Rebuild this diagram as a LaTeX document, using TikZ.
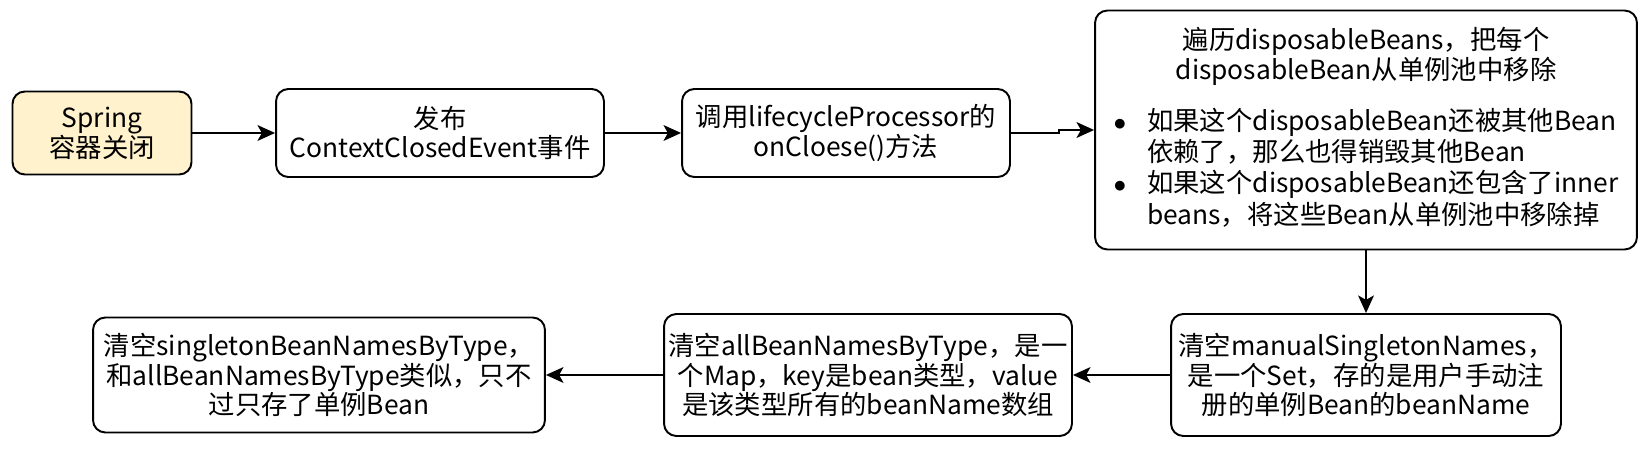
\documentclass[tikz,border=0pt]{standalone}
\usepackage{fontspec}
\setmainfont{Noto Sans CJK SC}
\usetikzlibrary{arrows.meta}
\definecolor{groc}{HTML}{FFF2CC}

\begin{document}
\begin{tikzpicture}[x=0.02cm,y=-0.02cm,
  caixa/.style={draw,line width=1.1pt,rounded corners=7pt,align=center,
    inner sep=0pt,font=\fontsize{15}{17}\selectfont},
  fletxa/.style={line width=1.1pt,-{Stealth[length=10pt,width=9pt,inset=2.5pt]}}]
  \useasboundingbox (0,0) rectangle (1650,452);
  % Fila de dalt
  \node[caixa,fill=groc,minimum width=3.58cm,minimum height=1.66cm] (spring) at (102,133) {Spring\\容器关闭};
  \node[caixa,minimum width=6.56cm,minimum height=1.76cm] (publica) at (440,133) {发布\\ContextClosedEvent事件};
  \node[caixa,minimum width=6.56cm,minimum height=1.76cm] (oncloese) at (846,133) {调用lifecycleProcessor的\\onCloese()方法};
  % Caixa gran amb la llista
  \node[caixa,minimum width=10.84cm,minimum height=4.78cm] (recorre) at (1366,130) {遍历disposableBeans，把每个\\disposableBean从单例池中移除\\[12pt]
    \begin{tabular}{@{}c@{\hspace{12pt}}l@{}}
      $\bullet$ & 如果这个disposableBean还被其他Bean\\
        & 依赖了，那么也得销毁其他Bean\\
      $\bullet$ & 如果这个disposableBean还包含了inner\\
        & beans，将这些Bean从单例池中移除掉
    \end{tabular}};
  % Fila de baix
  \node[caixa,minimum width=7.8cm,minimum height=2.44cm] (manual) at (1366,375) {清空manualSingletonNames，\\是一个Set，存的是用户手动注\\册的单例Bean的beanName};
  \node[caixa,minimum width=8.16cm,minimum height=2.44cm] (allbean) at (868,375) {清空allBeanNamesByType，是一\\个Map，key是bean类型，value\\是该类型所有的beanName数组};
  \node[caixa,minimum width=9.04cm,minimum height=2.3cm] (singleton) at (319,375) {清空singletonBeanNamesByType，\\和allBeanNamesByType类似，只不\\过只存了单例Bean};
  % Fletxes
  \draw[fletxa] (spring) -- (publica);
  \draw[fletxa] (publica) -- (oncloese);
  \draw[fletxa] (oncloese.east) -- +(48,0) |- (recorre.west);
  \draw[fletxa] (recorre) -- (manual);
  \draw[fletxa] (manual) -- (allbean);
  \draw[fletxa] (allbean) -- (singleton);
\end{tikzpicture}
\end{document}
